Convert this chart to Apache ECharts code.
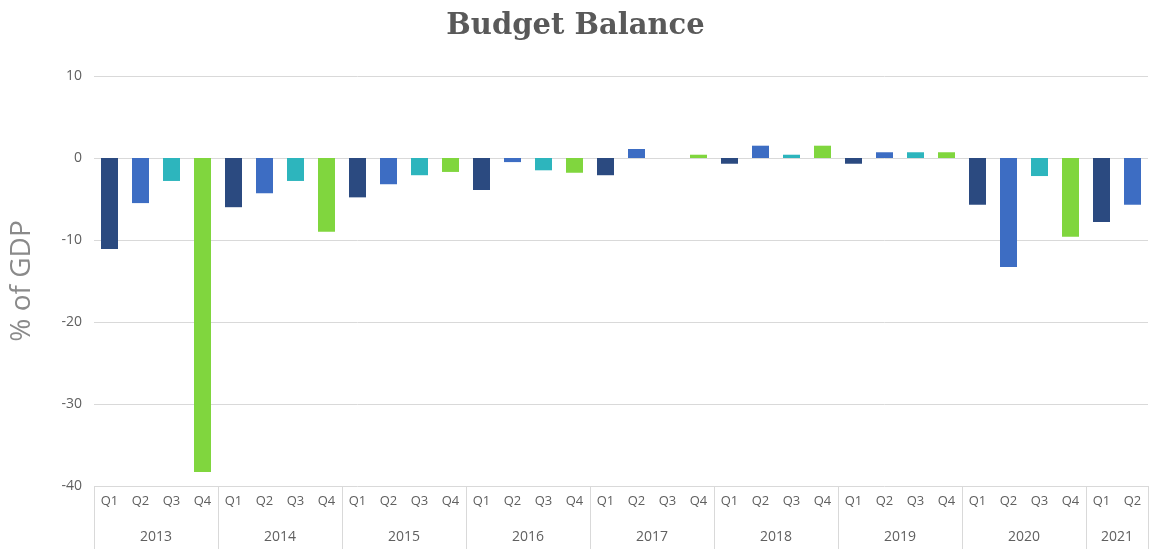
<!DOCTYPE html>
<html>
<head>
<meta charset="utf-8">
<script src="https://cdn.jsdelivr.net/npm/echarts@6/dist/echarts.min.js"></script>
<style>
  html, body { margin: 0; padding: 0; background: #fff; }
  #chart { width: 1151px; height: 549px; }
</style>
</head>
<body>
<div id="chart"></div>
<script>
// quarters, one per bar
const quarters = ['Q1', 'Q2', 'Q3', 'Q4']
const years = ['2013', '2014', '2015', '2016', '2017', '2018', '2019', '2020', '2021']
const quartersPerYear = [4, 4, 4, 4, 4, 4, 4, 4, 2]

// budget balance, % of GDP
const balance = [
  -11.1, -5.5, -2.8, -38.3,
  -6.0, -4.3, -2.8, -9.0,
  -4.8, -3.2, -2.1, -1.7,
  -3.9, -0.5, -1.5, -1.8,
  -2.1, 1.1, 0.0, 0.4,
  -0.7, 1.5, 0.4, 1.5,
  -0.7, 0.7, 0.7, 0.7,
  -5.7, -13.3, -2.2, -9.6,
  -7.8, -5.7,
]

const yTicks = [-40, -30, -20, -10, 0, 10]

const quarterColors = ['#2b4a80', '#3d6dc3', '#2db5bd', '#80d63e']

// build the quarter categories and the year-boundary axis
const categories = []
const qIndex = []
years.forEach((y, i) => {
  for (let q = 0; q < quartersPerYear[i]; q++) {
    categories.push(y + ' ' + quarters[q])
    qIndex.push(q)
  }
})

// boundary axis: one point per category edge (n + 1 points)
const boundaryLabels = new Array(categories.length + 1).fill('')
const boundaryTicks = new Set([0])
let pos = 0
years.forEach((y, i) => {
  boundaryLabels[pos + quartersPerYear[i] / 2] = y
  pos += quartersPerYear[i]
  boundaryTicks.add(pos)
})

const chart = echarts.init(document.getElementById('chart'))

const font = '"Open Sans", sans-serif'

chart.setOption({
  animation: false,
  title: {
    text: 'Budget Balance',
    left: 'center',
    top: 7,
    textStyle: {
      fontFamily: '"DejaVu Serif", serif',
      fontSize: 29,
      fontWeight: 'bold',
      color: '#595959',
    },
  },
  grid: {
    left: 93,
    right: 3,
    top: 76,
    bottom: 63,
  },
  xAxis: [
    {
      type: 'category',
      data: categories,
      axisLine: { show: false },
      axisTick: { show: false },
      axisLabel: {
        interval: 0,
        margin: 9,
        fontFamily: font,
        fontSize: 13,
        color: '#606060',
        formatter: (v) => v.split(' ')[1],
      },
    },
    {
      type: 'category',
      position: 'bottom',
      boundaryGap: false,
      data: boundaryLabels,
      axisLine: { show: false },
      axisTick: {
        show: true,
        length: 63,
        interval: (index) => boundaryTicks.has(index),
        lineStyle: { color: '#d9d9d9' },
      },
      axisLabel: {
        interval: 0,
        margin: 44,
        fontFamily: font,
        fontSize: 14,
        color: '#606060',
      },
    },
  ],
  yAxis: {
    type: 'value',
    min: yTicks[0],
    max: yTicks[yTicks.length - 1],
    interval: 10,
    name: '% of GDP',
    nameLocation: 'middle',
    nameGap: 58,
    nameTextStyle: {
      fontFamily: font,
      fontSize: 28,
      color: '#8a8a8a',
    },
    axisLine: { show: false },
    axisTick: { show: false },
    axisLabel: {
      margin: 12,
      fontFamily: font,
      fontSize: 14,
      color: '#606060',
    },
    splitLine: {
      lineStyle: { color: '#d9d9d9' },
    },
  },
  series: [
    {
      type: 'bar',
      barWidth: 17,
      data: balance.map((v, i) => ({
        value: v,
        itemStyle: { color: quarterColors[qIndex[i]] },
      })),
    },
  ],
})
</script>
</body>
</html>
